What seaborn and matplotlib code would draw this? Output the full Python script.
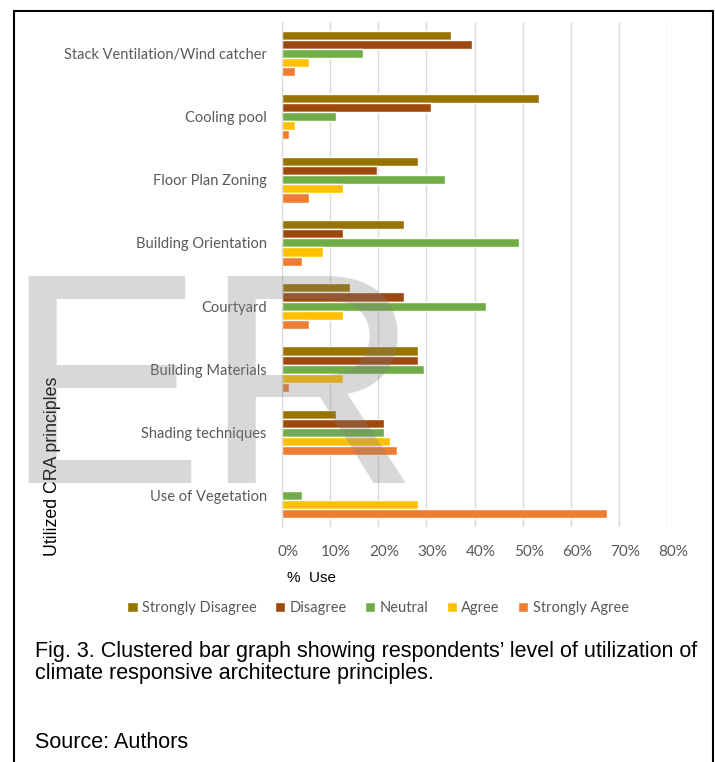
import matplotlib
matplotlib.use("Agg")
import matplotlib.pyplot as plt
import matplotlib.transforms as mtransforms
from matplotlib.patches import Rectangle
import pandas as pd
import seaborn as sns

# utilized CRA principles, top to bottom
principles = ["Stack Ventilation/Wind catcher", "Cooling pool", "Floor Plan Zoning",
              "Building Orientation", "Courtyard", "Building Materials",
              "Shading techniques", "Use of Vegetation"]
responses = ["Strongly Disagree", "Disagree", "Neutral", "Agree", "Strongly Agree"]

# % use for each response level
strongly_disagree = [35.2, 53.5, 28.2, 25.4, 14.1, 28.2, 11.3, 0.0]
disagree = [39.4, 31.0, 19.7, 12.7, 25.4, 28.2, 21.1, 0.0]
neutral = [16.9, 11.3, 33.8, 49.3, 42.3, 29.6, 21.1, 4.2]
agree = [5.6, 2.8, 12.7, 8.5, 12.7, 12.7, 22.5, 28.2]
strongly_agree = [2.8, 1.4, 5.6, 4.2, 5.6, 1.4, 23.9, 67.6]

colors = ["#997300", "#9E480E", "#70AD47", "#FFC000", "#ED7D31"]
xticks = [0, 10, 20, 30, 40, 50, 60, 70, 80]

series = [strongly_disagree, disagree, neutral, agree, strongly_agree]
rows = []
for resp, vals in zip(responses, series):
    for p, v in zip(principles, vals):
        rows.append({"principle": p, "response": resp, "value": v})
df = pd.DataFrame(rows)

sns.set_style("white")
plt.rcParams["font.family"] = ["Lato", "DejaVu Sans"]

fig = plt.figure(figsize=(7.15, 7.62), dpi=100)
ax = fig.add_axes([282 / 715, 1 - 527 / 762, (667 - 282) / 715, (527 - 22) / 762])

sns.barplot(data=df, x="value", y="principle", hue="response", order=principles,
            hue_order=responses, palette=colors, orient="h", width=0.72,
            saturation=1, ax=ax, zorder=3)

ax.set_xlim(0, 80)
ax.set_ylim(7.5, -0.5)
ax.set_xticks(xticks)
ax.set_xticklabels([f"{t}%" for t in xticks], fontsize=11, color="#595959")
ax.tick_params(axis="y", labelsize=10.5, labelcolor="#595959", length=0, pad=11)
ax.tick_params(axis="x", length=0, pad=13)
offset = mtransforms.ScaledTranslation(6 / 100, 0, fig.dpi_scale_trans)
for lab in ax.get_xticklabels():
    lab.set_transform(lab.get_transform() + offset)
ax.set_xlabel("")
ax.set_ylabel("")
ax.grid(axis="x", color="#d9d9d9", lw=1, zorder=0)
for s in ["top", "right", "bottom"]:
    ax.spines[s].set_visible(False)
ax.spines["left"].set_color("#d9d9d9")
ax.spines["left"].set_zorder(4)

handles, labels = ax.get_legend_handles_labels()
ax.get_legend().remove()
fig.legend(handles, labels, loc="center", bbox_to_anchor=(378 / 715, 1 - 608 / 762),
           ncol=5, frameon=False, fontsize=10.5, handlelength=0.7, handleheight=0.7,
           handletextpad=0.3, columnspacing=1.25, labelcolor="#595959")

fig.text(53 / 715, 1 - 466 / 762, "Utilized CRA principles", rotation=90, ha="center",
         va="center", fontsize=12.8, family="Liberation Sans", color="black")
fig.text(287 / 715, 1 - 578 / 762, "%  Use", ha="left", va="center", fontsize=11,
         family="Liberation Sans", color="black")

# watermark
fig.text(3 / 715, 1 - 483 / 762, "ER", ha="left", va="baseline", fontsize=216,
         family="Liberation Sans", color="#808080", alpha=0.3, zorder=10)

cap = dict(ha="left", va="center", fontsize=15.5, family="Liberation Sans", color="black")
fig.text(35 / 715, 1 - 651 / 762,
         "Fig. 3. Clustered bar graph showing respondents\u2019 level of utilization of", **cap)
fig.text(35 / 715, 1 - 673 / 762, "climate responsive architecture principles.", **cap)
fig.text(35 / 715, 1 - 743 / 762, "Source: Authors", **cap)

fig.add_artist(Rectangle((13.5 / 715, -0.02), (712.5 - 13.5) / 715, 0.02 + (762 - 11) / 762,
                         transform=fig.transFigure, fill=False, ec="black", lw=1.5,
                         clip_on=False))

fig.savefig("out.png", dpi=100)
